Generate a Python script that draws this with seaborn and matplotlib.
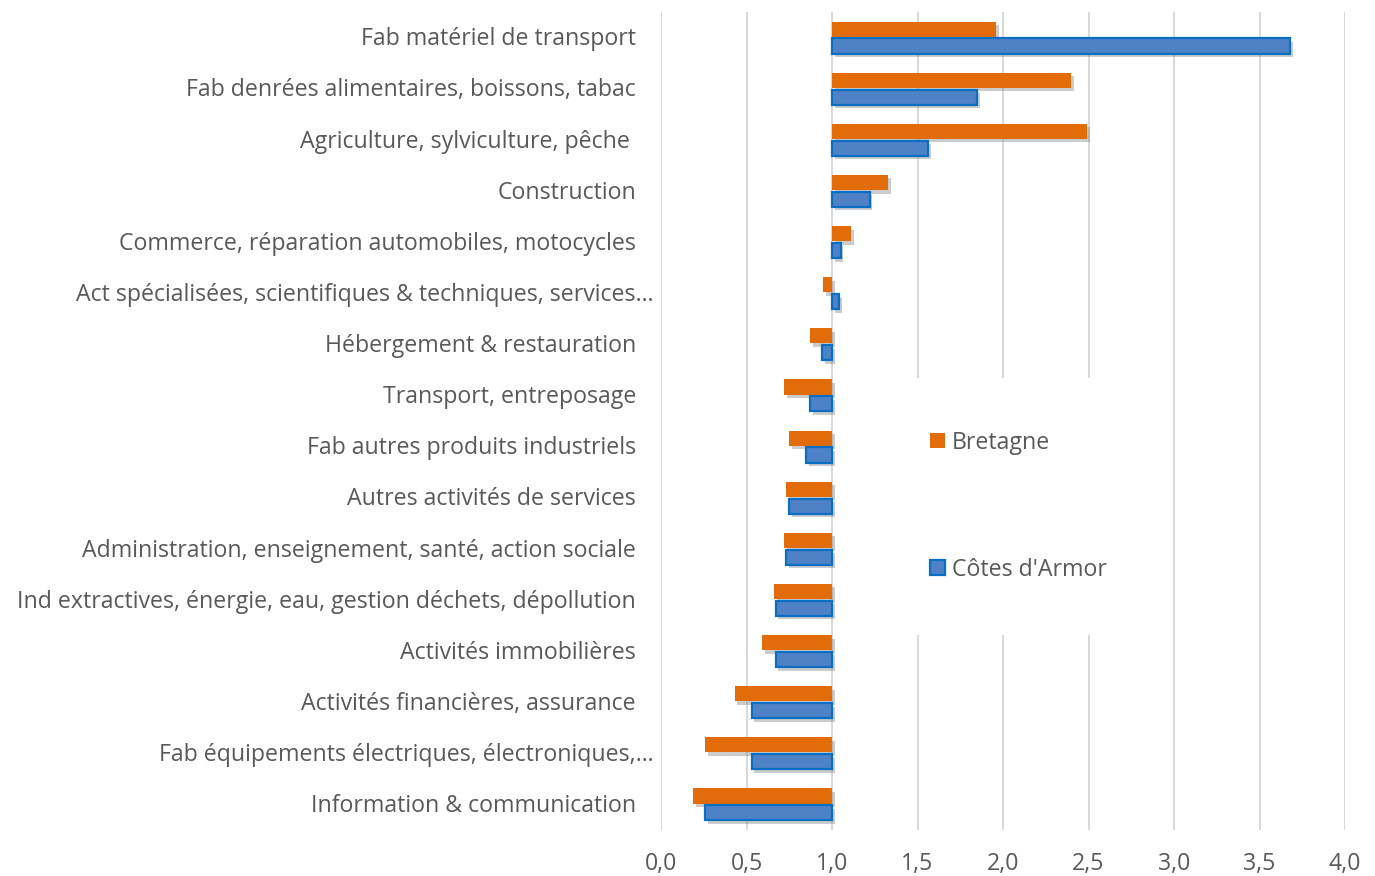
import matplotlib.pyplot as plt
import matplotlib.transforms as mtransforms
import matplotlib.patheffects as pe
from matplotlib.patches import Patch
import pandas as pd
import seaborn as sns

categories = [
    "Fab matériel de transport",
    "Fab denrées alimentaires, boissons, tabac",
    "Agriculture, sylviculture, pêche ",
    "Construction",
    "Commerce, réparation automobiles, motocycles",
    "Act spécialisées, scientifiques & techniques, services…",
    "Hébergement & restauration",
    "Transport, entreposage",
    "Fab autres produits industriels",
    "Autres activités de services",
    "Administration, enseignement, santé, action sociale",
    "Ind extractives, énergie, eau, gestion déchets, dépollution",
    "Activités immobilières",
    "Activités financières, assurance",
    "Fab équipements électriques, électroniques,…",
    "Information & communication",
]
bretagne = [1.96, 2.40, 2.49, 1.33, 1.11, 0.95, 0.87, 0.72,
            0.75, 0.73, 0.72, 0.66, 0.59, 0.43, 0.26, 0.19]
cotes_armor = [3.68, 1.85, 1.56, 1.22, 1.05, 1.04, 0.94, 0.87,
               0.85, 0.75, 0.73, 0.67, 0.67, 0.53, 0.53, 0.26]
series_names = ["Bretagne", "Côtes d'Armor"]
x_ticks = [0.0, 0.5, 1.0, 1.5, 2.0, 2.5, 3.0, 3.5, 4.0]
base = 1.0

ORANGE = "#E36C0A"
BLUE = "#4F81C7"
BLUE_EDGE = "#0A6FC2"
TEXT = "#595959"
GRID = "#D9D9D9"
FS = 16.7

# long format, bars drawn from the base value 1.0
df = pd.DataFrame({
    "category": categories * 2,
    "series": [series_names[0]] * len(categories) + [series_names[1]] * len(categories),
    "value": bretagne + cotes_armor,
})
df["delta"] = df["value"] - base

sns.set_style("white")
plt.rcParams["font.family"] = ["Open Sans", "DejaVu Sans"]

fig = plt.figure(figsize=(13.75, 8.76), dpi=100)
ax = fig.add_axes([661 / 1375, 1 - 830 / 876, 684 / 1375, 818 / 876])

sns.barplot(
    data=df, y="category", x="delta", hue="series", order=categories,
    hue_order=series_names, palette=[ORANGE, BLUE], saturation=1, orient="h",
    width=0.66, gap=0.1, left=base, errorbar=None, legend=False, ax=ax,
    zorder=3,
)

shadow = [pe.SimplePatchShadow(offset=(2, -2.5), shadow_rgbFace="#6f6f6f", alpha=0.35),
          pe.Normal()]
for i, cont in enumerate(ax.containers):
    for bar in cont:
        bar.set_path_effects(shadow)
        if i == 1:
            bar.set_edgecolor(BLUE_EDGE)
            bar.set_linewidth(1.6)
        else:
            bar.set_edgecolor("none")

ax.set_xlim(0, 4)
ax.set_ylim(len(categories) - 0.5, -0.5)
ax.set_xticks(x_ticks)
ax.set_xticklabels([f"{t:.1f}".replace(".", ",") for t in x_ticks])
ax.tick_params(axis="x", length=0, pad=16, labelsize=FS, labelcolor=TEXT)
ax.set_yticks([])
ax.set(xlabel="", ylabel="")
ax.grid(axis="x", color=GRID, linewidth=1.5, zorder=0)
ax.set_axisbelow(True)
sns.despine(ax=ax, top=True, right=True, left=True, bottom=True)

# category labels, right aligned left of the axes
for i, name in enumerate(categories):
    pad_px = 7 if name.endswith("…") else 25
    trans = mtransforms.blended_transform_factory(ax.transAxes, ax.transData)
    trans = trans + mtransforms.ScaledTranslation(-pad_px / 100, -0.018, fig.dpi_scale_trans)
    ax.text(0, i, name, transform=trans, ha="right", va="center",
            fontsize=FS, color=TEXT)

handles = [Patch(facecolor=ORANGE, edgecolor="none"),
           Patch(facecolor=BLUE, edgecolor=BLUE_EDGE, linewidth=1.6)]
leg = ax.legend(
    handles, series_names, loc="center left",
    bbox_to_anchor=(877 / 1375, 1 - 506.5 / 876), bbox_transform=fig.transFigure,
    frameon=True, facecolor="white", edgecolor="none", framealpha=1,
    fontsize=FS, labelspacing=4.45, handlelength=0.62, handleheight=0.62,
    handletextpad=0.3, borderpad=2.3, borderaxespad=0, fancybox=False,
)
for t in leg.get_texts():
    t.set_color(TEXT)
leg.set_zorder(5)

fig.savefig("out.png", dpi=100)
